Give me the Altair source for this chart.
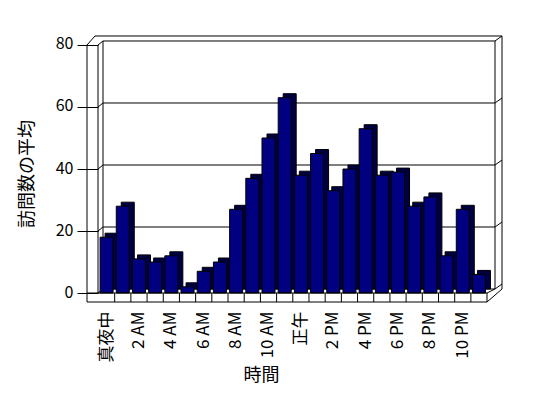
import altair as alt
import pandas as pd

# ---- data ----
hours = list(range(24))
hour_labels = ['真夜中', '', '2 AM', '', '4 AM', '', '6 AM', '', '8 AM', '', '10 AM', '',
               '正午', '', '2 PM', '', '4 PM', '', '6 PM', '', '8 PM', '', '10 PM', '']
visits = [18, 28, 11, 10, 12, 2, 7, 10, 27, 37, 50, 63, 38, 45, 33, 40, 53, 38, 39, 28, 31, 12, 27, 6]
y_ticks = [0, 20, 40, 60, 80]

df = pd.DataFrame({'hour': hours, 'visits': visits})
one = pd.DataFrame({'k': [0]})

Y_MIN, Y_MAX = -2.9, 82.9
W, H = 404, 266
FONT = 'Noto Sans CJK JP'

y_scale = alt.Scale(domain=[Y_MIN, Y_MAX], nice=False, zero=False)
x_scale = alt.Scale(paddingInner=0, paddingOuter=0.476, align=0.032)

label_expr = "[" + ",".join("'%s'" % s for s in hour_labels) + "][datum.value]"

x_axis = alt.Axis(title='時間', orient='bottom', labelExpr=label_expr, labelAngle=270,
                  labelAlign='right', labelBaseline='middle', labelPadding=9, labelFont=FONT,
                  labelFontSize=17, labelColor='black', labelOverlap=False, domain=False,
                  ticks=False, tickSize=0, grid=False, titleFont=FONT, titleFontSize=18,
                  titleFontWeight='normal', titleColor='black', titleX=163, titleY=78,
                  titleBaseline='alphabetic', titleAlign='center', zindex=1)
y_axis = alt.Axis(title='訪問数の平均', orient='left', values=y_ticks, domain=False, tickSize=21,
                  tickColor='black', labelPadding=4, labelFont=FONT, labelFontSize=16,
                  labelColor='black', labelOffset=-1, grid=False, titleFont=FONT, titleFontSize=18,
                  titleFontWeight='normal', titleColor='black', titleAngle=270,
                  titleX=-71, titleY=137.5, titleBaseline='middle', titleAlign='center', zindex=1)


def seg(x1, x2, v1, v2, o1=0, o2=0):
    return alt.Chart(one).mark_rule(color='black', strokeWidth=1, yOffset=o1, y2Offset=o2).encode(
        x=alt.value(x1), x2=alt.value(x2),
        y=alt.YDatum(v1, axis=None), y2=alt.Y2Datum(v2))


frame = []
for v in y_ticks:
    frame.append(seg(5, 397, v, v, -4, -4))      # back wall gridlines
    frame.append(seg(0, 5, v, v, 0, -4))         # left wall diagonals
    frame.append(seg(397, 404, v, v, -4, -9))    # right wall diagonals
frame += [
    seg(5, 5, 80, 0, -4, -4),
    seg(397, 397, 80, 0, -4, -4),
    seg(404, 404, 80, 0, -9, -4),
    seg(-3, 404, 80, 80, -9, -9),
    seg(-11, -3, 80, 80, 0, -9),
    seg(-11, -11, 80, Y_MIN),
    seg(0, 0, 80, 0),
]
floor = [
    seg(-11, 389, 0, 0),
    seg(-11, 389, Y_MIN, Y_MIN),
    seg(389, 389, 0, Y_MIN),
    seg(389, 404, Y_MIN, 0, 0, -4),
    seg(389, 397, 0, 0, 0, -4),
]

shadow = alt.Chart(df).mark_bar(color='#000040', stroke='black', strokeWidth=1, width=13,
                                xOffset=5, yOffset=-4, y2Offset=-4).encode(
    x=alt.X('hour:O', scale=x_scale, axis=None),
    y=alt.Y('visits:Q', scale=y_scale, axis=None),
    y2=alt.Y2Datum(0))

front = alt.Chart(df).mark_bar(color='#000080', stroke='black', strokeWidth=1, width=13).encode(
    x=alt.X('hour:O', scale=x_scale, axis=x_axis),
    y=alt.Y('visits:Q', scale=y_scale, axis=y_axis),
    y2=alt.Y2Datum(0))

ticks = alt.Chart(df).transform_filter('datum.hour > 0').mark_rule(color='black', strokeWidth=1).encode(
    x=alt.X('hour:O', bandPosition=0, axis=None),
    y=alt.YDatum(0, axis=None), y2=alt.Y2Datum(Y_MIN))

chart = alt.layer(*frame, shadow, front, *floor, ticks).properties(
    width=W, height=H,
    autosize=alt.AutoSizeParams(type='none'),
    padding={'left': 90, 'top': 28, 'right': 30, 'bottom': 88},
    background='white',
).resolve_axis(x='independent', y='independent').configure_view(stroke=None)

chart.save("out.html", embed_options={"renderer": "svg", "actions": False})
